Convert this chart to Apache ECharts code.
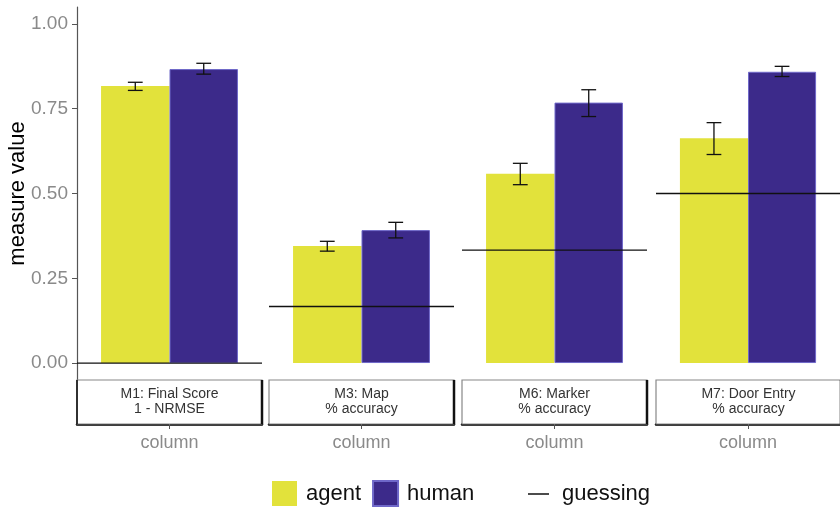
<!DOCTYPE html>
<html>
<head>
<meta charset="utf-8">
<script src="https://cdn.jsdelivr.net/npm/echarts@6/dist/echarts.min.js"></script>
<style>
  html, body { margin: 0; padding: 0; background: #fff; }
  #chart { width: 840px; height: 511px; }
</style>
</head>
<body>
<div id="chart"></div>
<script>
// Facet strip labels (one panel per measure)
const facets = ['M1: Final Score\n1 - NRMSE', 'M3: Map\n% accuracy', 'M6: Marker\n% accuracy', 'M7: Door Entry\n% accuracy'];
const category = ['column'];

// Mean measure values with error bar bounds
const agent   = [0.817, 0.345, 0.558, 0.663];
const agentLo = [0.804, 0.330, 0.526, 0.615];
const agentHi = [0.828, 0.359, 0.589, 0.709];
const human   = [0.867, 0.392, 0.768, 0.859];
const humanLo = [0.852, 0.369, 0.727, 0.845];
const humanHi = [0.884, 0.415, 0.806, 0.875];

// Chance-level performance for each measure
const guessing = [0, 0.1667, 0.3333, 0.5];

const yTicks = [0, 0.25, 0.5, 0.75, 1];

const FONT = 'Liberation Sans, Arial, sans-serif';
const YELLOW = '#e2e23b';
const PURPLE = '#3c2a8a';

// Panel layout
const panelLeft = [77, 269, 462, 656];
const panelWidth = 185;
const panelTop = 7;
const panelHeight = 373;
const stripHeight = 44;

const chart = echarts.init(document.getElementById('chart'), null, { renderer: 'canvas' });

const grids = [], xAxes = [], yAxes = [], series = [], graphics = [];

facets.forEach((label, i) => {
  grids.push({ left: panelLeft[i], top: panelTop, width: panelWidth, height: panelHeight, containLabel: false });

  xAxes.push({
    gridIndex: i,
    type: 'category',
    data: category,
    position: 'bottom',
    offset: stripHeight,
    axisLine: { show: true, onZero: false, lineStyle: { color: '#000', width: 2.5 } },
    axisTick: { show: true, length: 5, alignWithLabel: true, lineStyle: { color: '#555', width: 1 } },
    axisLabel: { show: false },
    splitLine: { show: false },
    name: 'column',
    nameLocation: 'middle',
    nameGap: 10,
    nameMoveOverlap: false,
    nameTextStyle: { color: '#8a8a8a', fontSize: 18, fontFamily: FONT, verticalAlign: 'top' }
  });

  const first = i === 0;
  yAxes.push({
    gridIndex: i,
    type: 'value',
    min: -0.05,
    max: 1.05,
    axisLine: { show: first, onZero: false, lineStyle: { color: '#555', width: 1.2 } },
    axisTick: { show: first, length: 5, customValues: yTicks, lineStyle: { color: '#555', width: 1 } },
    axisLabel: {
      show: first, customValues: yTicks, margin: 9,
      color: '#8a8a8a', fontSize: 19, fontFamily: FONT,
      formatter: v => v.toFixed(2)
    },
    splitLine: { show: false },
    name: first ? 'measure value' : '',
    nameLocation: 'middle',
    nameRotate: 90,
    nameGap: 48,
    nameMoveOverlap: false,
    nameTextStyle: { color: '#000', fontSize: 22, fontFamily: FONT }
  });

  series.push({
    name: 'agent', type: 'bar', xAxisIndex: i, yAxisIndex: i,
    data: [agent[i]], barWidth: '37%', barGap: '0%',
    itemStyle: { color: YELLOW }, z: 2
  });
  series.push({
    name: 'human', type: 'bar', xAxisIndex: i, yAxisIndex: i,
    data: [human[i]], barWidth: '37%', barGap: '0%',
    itemStyle: { color: PURPLE, borderColor: '#6f68c9', borderWidth: 1 }, z: 2
  });

  // Error bars, dodged onto each bar
  series.push({
    name: 'errorbar', type: 'custom', xAxisIndex: i, yAxisIndex: i, z: 4,
    data: [[0, agentLo[i], agentHi[i], -1], [0, humanLo[i], humanHi[i], 1]],
    renderItem: (params, api) => {
      const bw = api.size([1, 0])[0];
      const lo = api.coord([api.value(0), api.value(1)]);
      const hi = api.coord([api.value(0), api.value(2)]);
      const x = lo[0] + api.value(3) * 0.185 * bw;
      const cap = 0.04 * bw;
      const style = { stroke: '#111', lineWidth: 1.3 };
      return {
        type: 'group',
        children: [
          { type: 'line', shape: { x1: x, y1: lo[1], x2: x, y2: hi[1] }, style },
          { type: 'line', shape: { x1: x - cap, y1: lo[1], x2: x + cap, y2: lo[1] }, style },
          { type: 'line', shape: { x1: x - cap, y1: hi[1], x2: x + cap, y2: hi[1] }, style }
        ]
      };
    }
  });

  // Guessing reference line across the full panel
  series.push({
    name: 'guessing', type: 'custom', xAxisIndex: i, yAxisIndex: i, z: 5,
    itemStyle: { color: '#111' },
    data: [[0, guessing[i]]],
    renderItem: (params, api) => {
      const cs = params.coordSys;
      const p = api.coord([api.value(0), api.value(1)]);
      return {
        type: 'line',
        shape: { x1: cs.x, y1: p[1], x2: cs.x + cs.width, y2: p[1] },
        style: { stroke: '#111', lineWidth: 1.3 }
      };
    }
  });

  // Facet strip below each panel
  const sx = panelLeft[i], sy = panelTop + panelHeight, sw = panelWidth;
  graphics.push({
    type: 'rect', shape: { x: sx, y: sy, width: sw, height: stripHeight },
    style: { fill: '#fff', stroke: '#888', lineWidth: 1.2 }, z: 1
  });
  graphics.push({
    type: 'line', shape: { x1: sx + sw, y1: sy, x2: sx + sw, y2: sy + stripHeight },
    style: { stroke: '#111', lineWidth: 2.5 }, z: 2
  });
  if (first) {
    graphics.push({
      type: 'line', shape: { x1: sx, y1: sy, x2: sx, y2: sy + stripHeight },
      style: { stroke: '#222', lineWidth: 1.8 }, z: 2
    });
  }
  graphics.push({
    type: 'text', x: sx + sw / 2, y: sy + stripHeight / 2, z: 3,
    style: {
      text: label, fill: '#333', fontSize: 14, lineHeight: 15, fontFamily: FONT,
      align: 'center', verticalAlign: 'middle'
    }
  });
});

chart.setOption({
  backgroundColor: '#fff',
  animation: false,
  grid: grids,
  xAxis: xAxes,
  yAxis: yAxes,
  legend: [
    {
      data: [
        { name: 'agent', icon: 'rect', itemStyle: { color: YELLOW } },
        { name: 'human', icon: 'rect', itemStyle: { color: PURPLE } }
      ],
      left: 272, top: 480, orient: 'horizontal',
      itemWidth: 25, itemHeight: 25, itemGap: 11, padding: 0,
      textStyle: { color: '#111', fontSize: 22, fontFamily: FONT, padding: [0, 0, 0, 4] },
      selectedMode: false
    },
    {
      data: [{ name: 'guessing', icon: 'rect', itemStyle: { color: '#111' } }],
      left: 528, top: 483, orient: 'horizontal',
      itemWidth: 21, itemHeight: 1.5, padding: 0,
      textStyle: { color: '#111', fontSize: 22, fontFamily: FONT, padding: [0, 0, 0, 8] },
      selectedMode: false
    }
  ],
  graphic: graphics,
  series: series
});
</script>
</body>
</html>
